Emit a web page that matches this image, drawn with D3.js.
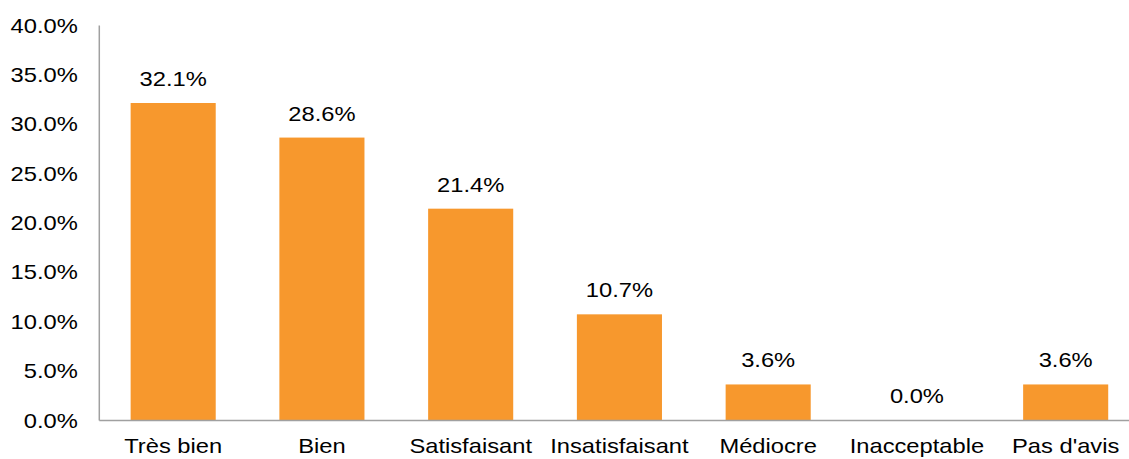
<!DOCTYPE html>
<html><head><meta charset="utf-8">
<script src="https://cdn.jsdelivr.net/npm/d3@7"></script>
<style>body{margin:0;background:#fff}svg{display:block}text{font-family:"Liberation Sans",Arial,sans-serif;fill:#000}</style>
</head><body><svg id="c" width="1129" height="459"></svg>
<script>
const categories = ["Très bien","Bien","Satisfaisant","Insatisfaisant","Médiocre","Inacceptable","Pas d'avis"];
const values = [32.1, 28.6, 21.4, 10.7, 3.6, 0.0, 3.6];
const yTicks = [0,5,10,15,20,25,30,35,40];

const W=1129,H=459;
const m={left:98.8,top:25,bottom:39};
const plotRight = m.left + 7*148.75;
const svg=d3.select("#c");
const x=d3.scaleBand().domain(categories).range([m.left,plotRight]).paddingInner(0.428).paddingOuter(0.214);
const y=d3.scaleLinear().domain([0,40]).range([420,m.top]);
const fs=21, sx=1.13;
function stretchedText(g, px, py, str, anchor){
  g.append("text").attr("transform",`translate(${px},${py}) scale(${sx},1)`)
   .attr("text-anchor",anchor).attr("font-size",fs).text(str);
}
// bars
svg.append("g").selectAll("rect").data(values).join("rect")
  .attr("x",(d,i)=>x(categories[i])).attr("width",x.bandwidth())
  .attr("y",d=>y(d)).attr("height",d=>y(0)-y(d)).attr("fill","#F7982D");
// y axis
const ya=svg.append("g").attr("transform",`translate(${m.left},0)`)
  .call(d3.axisLeft(y).tickValues(yTicks).tickSize(0).tickFormat(d=>d.toFixed(1)+"%"));
ya.select(".domain").attr("stroke","#a0a0a0").attr("stroke-width",1.5);
ya.selectAll(".tick text").each(function(d){
  const t=d3.select(this); const str=t.text();
  t.remove();
  stretchedText(ya, -21, y(d)+7.5, str, "end");
});
// x axis
const xa=svg.append("g").attr("transform",`translate(0,420)`)
  .call(d3.axisBottom(x).tickSize(0));
xa.select(".domain").attr("stroke","#a0a0a0").attr("stroke-width",1.5);
xa.selectAll(".tick text").each(function(d){
  const t=d3.select(this); t.remove();
  stretchedText(xa, x(d)+x.bandwidth()/2, 33, d, "middle");
});
// data labels
const lg=svg.append("g");
values.forEach((v,i)=>{
  stretchedText(lg, x(categories[i])+x.bandwidth()/2, y(v)-17, v.toFixed(1)+"%", "middle");
});
</script></body></html>
